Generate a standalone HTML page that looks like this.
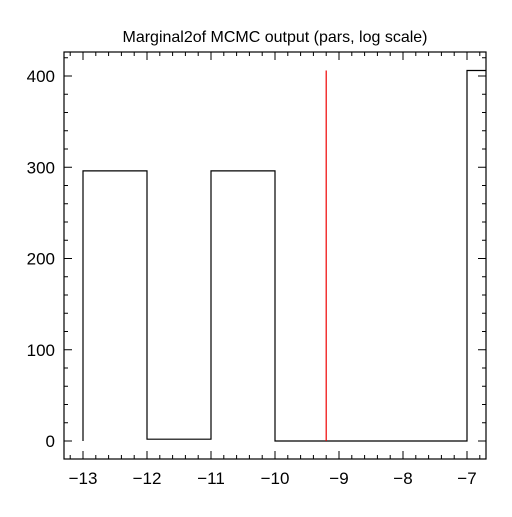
<!DOCTYPE html>
<html><head><meta charset="utf-8"><style>
body{margin:0;background:#fff}
svg text{font-family:"Liberation Sans",sans-serif;fill:#000}
</style></head><body>
<svg id="c" width="512" height="512" xmlns="http://www.w3.org/2000/svg">
<text x="275" y="42" font-size="16" text-anchor="middle">Marginal2of MCMC output (pars, log scale)</text>
<g id="axes"></g>
<g id="marks"></g>
</svg>
<script>
const binEdges = [-13, -12, -11, -10, -7, -6.7];
const binCounts = [296, 2, 296, 0, 406];
const refValue = -9.2;
const refHeight = 406;
const xTicks = [-13, -12, -11, -10, -9, -8, -7];
const yTicks = [0, 100, 200, 300, 400];

const L=64,R=486,T=52,B=459;
const xs=v=>83+(v+13)*64;
const ys=v=>441-v*0.9125;
const NS='http://www.w3.org/2000/svg';
function mk(tag,attrs,parent){const e=document.createElementNS(NS,tag);for(const k in attrs)e.setAttribute(k,attrs[k]);parent.appendChild(e);return e;}
const ax=document.getElementById('axes'), mg=document.getElementById('marks');
const frame=mk('rect',{x:L,y:T,width:R-L,height:B-T,fill:'none',stroke:'#000','stroke-width':1.2},ax);


for(let v=-13.2;v<=-6.7;v+=0.2){const x=xs(v);if(x<L||x>R)continue;const maj=Math.abs(v-Math.round(v))<1e-6;const len=maj?8:4;
mk('line',{x1:x,x2:x,y1:B,y2:B-len,stroke:'#000'},ax);mk('line',{x1:x,x2:x,y1:T,y2:T+len,stroke:'#000'},ax);}
for(let v=-20;v<=440;v+=20){const y=ys(v);if(y<T||y>B)continue;const len=(v%100===0)?8:4;
mk('line',{x1:L,x2:L+len,y1:y,y2:y,stroke:'#000'},ax);mk('line',{x1:R,x2:R-len,y1:y,y2:y,stroke:'#000'},ax);}
xTicks.forEach(v=>{const t=mk('text',{x:xs(v),y:484,'font-size':17,'text-anchor':'middle'},ax);t.textContent='\u2212'+Math.abs(v);

});
yTicks.forEach(v=>{const t=mk('text',{x:55,y:ys(v)+6,'font-size':17,'text-anchor':'end'},ax);t.textContent=v;

});
let d='M'+xs(binEdges[0])+','+ys(0);
binCounts.forEach((c,i)=>{d+=' L'+xs(binEdges[i])+','+ys(c)+' L'+Math.min(xs(binEdges[i+1]),R)+','+ys(c);if(i<binCounts.length-1)d+=' L'+xs(binEdges[i+1])+','+ys(binCounts[i+1]);});
const p=mk('path',{d:d,fill:'none',stroke:'#000','stroke-width':1.2},mg);


const rl=mk('line',{x1:xs(refValue),x2:xs(refValue),y1:ys(0),y2:ys(refHeight),stroke:'#e00','stroke-width':1.2},mg);


</script>
</body></html>
